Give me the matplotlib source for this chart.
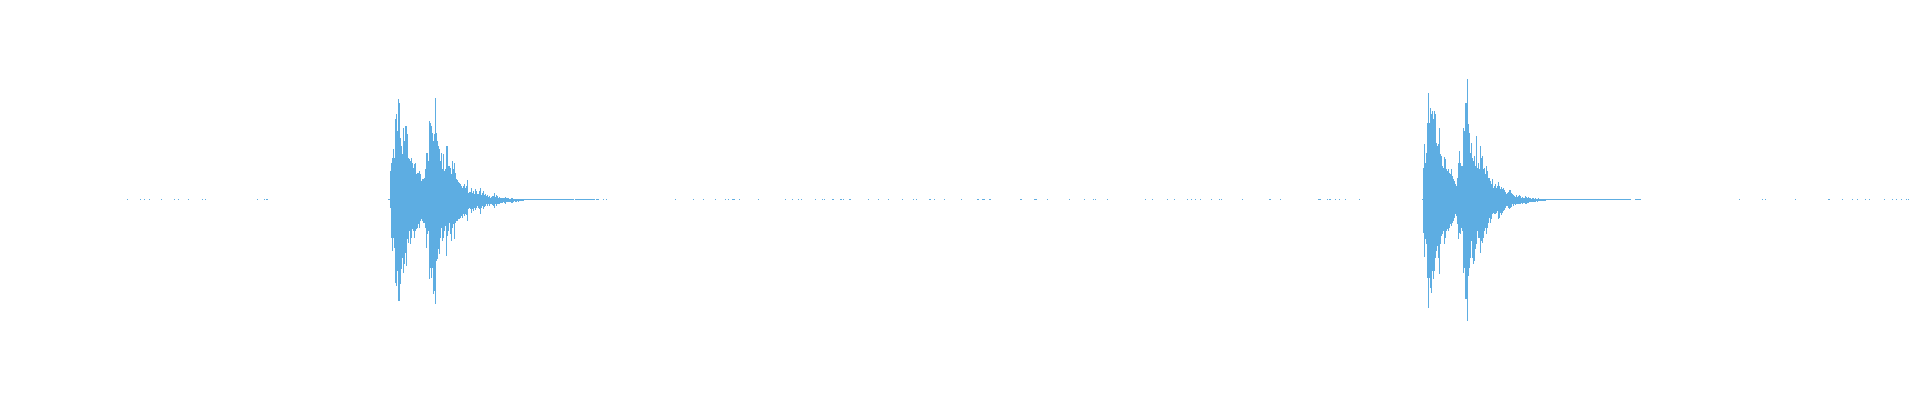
"""Waveform overview: two drum hits with low-level noise in between."""
import matplotlib
matplotlib.use('Agg')
import matplotlib.pyplot as plt
import numpy as np

N_BINS = 1920          # one peak column per output pixel
WAVE_COLOR = '#5dade2'

# ─── Data: peak levels per column (arbitrary units, full view = ±200) ───
hit1_start = 390
hit1_top = [29, 37, 42, 51, 42, 81, 86, 69, 101, 97,
            62, 54, 46, 72, 59, 74, 74, 66, 42, 41,
            39, 42, 37, 32, 36, 37, 26, 27, 27, 29,
            26, 19, 21, 21, 22, 31, 47, 47, 39, 79,
            77, 74, 67, 59, 66, 102, 67, 59, 54, 51,
            39, 47, 31, 46, 29, 31, 54, 54, 34, 34,
            32, 26, 39, 31, 37, 27, 21, 20, 18, 17,
            16, 14, 12, 14, 16,
            12, 14, 20, 7, 8, 8, 12, 7, 9, 6,
            11, 9, 6, 6, 9, 12, 5, 7, 9, 5,
            6, 4, 5, 3, 4, 2, 3, 4, 4, 7,
            3, 5, 4, 2, 3, 2, 2, 2, 2, 2,
            3, 2, 2, 2, 1, 1, 2, 2, 1, 1,
            1, 1, 1, 1, 1, 1, 1, 1, 1]
hit1_bottom = [8, 38, 51, 38, 48, 83, 86, 71, 101, 101,
               84, 69, 58, 73, 64, 53, 66, 39, 43, 31,
               44, 38, 29, 31, 38, 31, 29, 28, 24, 28,
               21, 19, 21, 23, 23, 28, 48, 34, 31, 79,
               68, 78, 68, 94, 91, 104, 61, 59, 49, 54,
               38, 28, 41, 38, 31, 26, 56, 36, 31, 23,
               34, 41, 28, 24, 39, 23, 21, 21, 19, 19,
               18, 16, 18, 14, 16,
               14, 15, 21, 9, 8, 9, 13, 9, 11, 8,
               10, 8, 6, 8, 9, 14, 8, 6, 9, 7,
               6, 4, 6, 4, 6, 4, 4, 5, 6, 8,
               4, 6, 4, 4, 4, 3, 3, 3, 2, 3,
               4, 2, 2, 2, 2, 2, 3, 3, 2, 1,
               2, 2, 1, 2, 1, 1, 1, 1, 1]

hit2_start = 1423
hit2_top = [32, 56, 37, 47, 77, 107, 77, 92, 86, 89,
            81, 89, 86, 57, 54, 56, 72, 46, 44, 34,
            32, 43, 41, 31, 29, 31, 27, 26, 31, 24,
            21, 19, 16, 14, 22, 37, 49, 37, 34, 34,
            72, 69, 97, 97, 121, 76, 67, 47, 57, 42,
            39, 44, 34, 64, 32, 37, 31, 54, 42, 44,
            31, 32, 26, 34, 29, 22, 22, 19, 16, 21,
            12, 14, 16, 12, 14,
            18, 14, 11, 13, 11, 12, 10, 8, 6, 7,
            8, 10, 10, 7, 6, 5, 4, 3, 5, 3,
            4, 5, 4, 2, 3, 2, 2, 4, 3, 2,
            3, 2, 2, 1, 2,
            2, 1, 2, 1, 1, 2, 1, 1, 1, 1, 1, 1, 1]
hit2_bottom = [33, 57, 39, 44, 78, 108, 78, 88, 93, 71,
               79, 71, 58, 51, 46, 58, 74, 44, 36, 34,
               31, 44, 38, 31, 29, 31, 28, 24, 26, 23,
               21, 18, 14, 16, 24, 39, 33, 34, 28, 31,
               73, 68, 99, 99, 121, 76, 68, 58, 41, 58,
               64, 61, 49, 44, 31, 38, 38, 53, 41, 43,
               38, 31, 28, 34, 28, 23, 18, 23, 19, 14,
               13, 14, 14, 13, 11,
               19, 18, 13, 15, 13, 11, 10, 8, 6, 6,
               8, 9, 8, 7, 4, 6, 4, 5, 4, 4,
               4, 4, 4, 3, 4, 3, 3, 4, 4, 3,
               3, 2, 2, 2, 2,
               2, 2, 2, 1, 2, 1, 1, 1, 1, 1, 1, 1, 1]

# decay tails: runs of columns sitting at the lowest level
tail_runs = [(524, 573), (575, 588), (589, 594), (596, 598), (603, 603),
             (606, 606), (1546, 1605), (1606, 1626), (1627, 1629),
             (1630, 1630), (1635, 1640)]

# isolated noise columns between the hits
noise_cols = [127, 140, 144, 149, 161, 174, 178, 188, 202, 205, 257, 264,
              266, 267, 388, 389,
              675, 693, 703, 715, 725, 728, 732, 733, 734, 739, 758, 785,
              792, 798, 801, 815, 822, 824, 832, 833, 840, 841, 843, 849,
              850, 868, 878, 888, 902, 913, 916, 929, 930, 934, 944, 961,
              977, 978, 982, 983, 984, 989, 990, 1020, 1021, 1034, 1035,
              1036, 1047, 1069, 1084, 1093, 1095, 1107, 1145, 1152, 1167,
              1174, 1187, 1191, 1195, 1200, 1211, 1219, 1221, 1242, 1269,
              1270, 1280, 1318, 1319, 1320, 1327, 1329, 1330, 1335, 1339,
              1345, 1359, 1422,
              1739, 1762, 1765, 1795, 1828, 1829, 1842, 1852, 1857, 1865,
              1869, 1884, 1892, 1896, 1901, 1906, 1908]
NOISE_LEVEL = 1


def build_peaks():
    top = np.zeros(N_BINS)
    bot = np.zeros(N_BINS)
    for start, t, b in [(hit1_start, hit1_top, hit1_bottom),
                        (hit2_start, hit2_top, hit2_bottom)]:
        top[start:start + len(t)] = t
        bot[start:start + len(b)] = b
    for a, b in tail_runs:
        top[a:b + 1] = np.maximum(top[a:b + 1], NOISE_LEVEL)
    for c in noise_cols:
        top[c] = max(top[c], NOISE_LEVEL)
    return top, bot


def fig_waveform():
    top, bot = build_peaks()
    cols = np.arange(N_BINS)
    keep = (top > 0) | (bot > 0)

    fig = plt.figure(figsize=(19.2, 4.0), dpi=100)
    ax = fig.add_axes([0, 0, 1, 1])
    # one filled column per bin, from the negative peak up to the positive one
    ax.bar(cols[keep], top[keep] + bot[keep], bottom=-bot[keep], width=1.0,
           align='edge', color=WAVE_COLOR, linewidth=0, antialiased=False)
    ax.set_xlim(0, N_BINS)
    ax.set_ylim(-200, 200)
    ax.axis('off')

    fig.savefig('out.png', dpi=100, facecolor='white')
    plt.close(fig)


if __name__ == '__main__':
    fig_waveform()
